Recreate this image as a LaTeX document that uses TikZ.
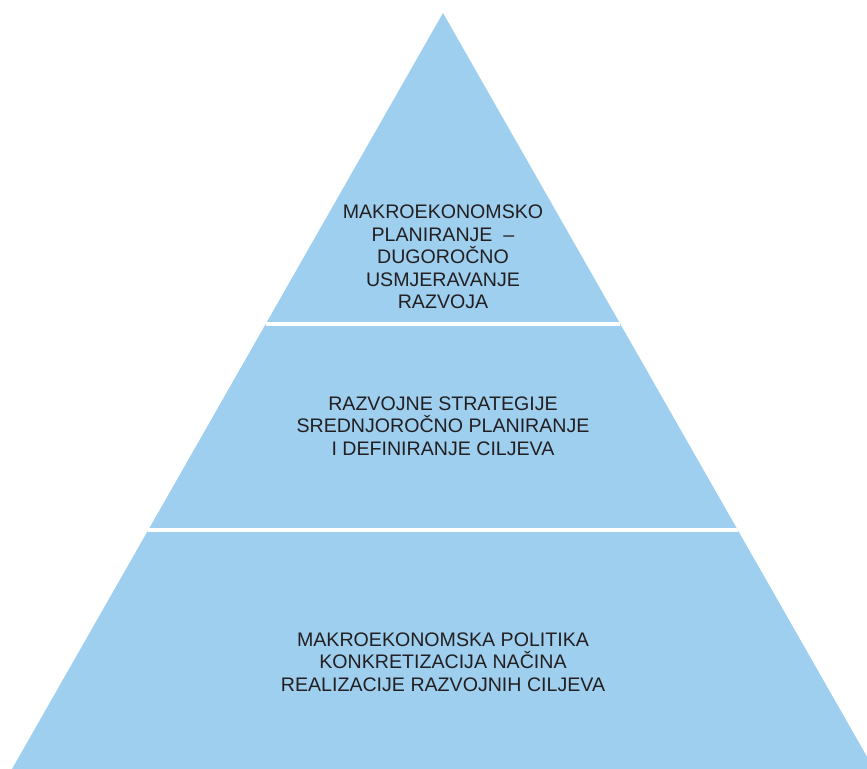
\documentclass[tikz,border=0pt]{standalone}
\usepackage{fontspec}
\setmainfont{Liberation Sans}
\definecolor{pyramidblue}{RGB}{158,207,239}
\definecolor{labelgray}{RGB}{35,31,32}

\begin{document}
\begin{tikzpicture}[x=0.5pt,y=-0.5pt]
    \tikzset{LevelText/.style = {%
        align=center,
        text=labelgray,
        inner sep=0pt,
        font=\fontsize{9.8pt}{11.3pt}\selectfont},
      Divider/.style = {white, line width=1.6pt}}
    \useasboundingbox (0,0) rectangle (867,769);
    \fill[pyramidblue] (443,13) -- (874,769) -- (12,769) -- cycle;
    \coordinate (L1) at (265.7,324);
    \coordinate (R1) at (620.3,324);
    \coordinate (L2) at (148,530);
    \coordinate (R2) at (738,530);
    \draw[Divider] (L1) -- (R1);
    \draw[Divider] (L2) -- (R2);
    \node[LevelText] (top) at (443,257) {MAKROEKONOMSKO\\PLANIRANJE \ –\\DUGOROČNO\\USMJERAVANJE\\RAZVOJA};
    \node[LevelText] (mid) at (443,426) {RAZVOJNE STRATEGIJE\\SREDNJOROČNO PLANIRANJE\\I DEFINIRANJE CILJEVA};
    \node[LevelText] (low) at (443,662) {MAKROEKONOMSKA POLITIKA\\KONKRETIZACIJA NAČINA\\REALIZACIJE RAZVOJNIH CILJEVA};
  \end{tikzpicture}
\end{document}
